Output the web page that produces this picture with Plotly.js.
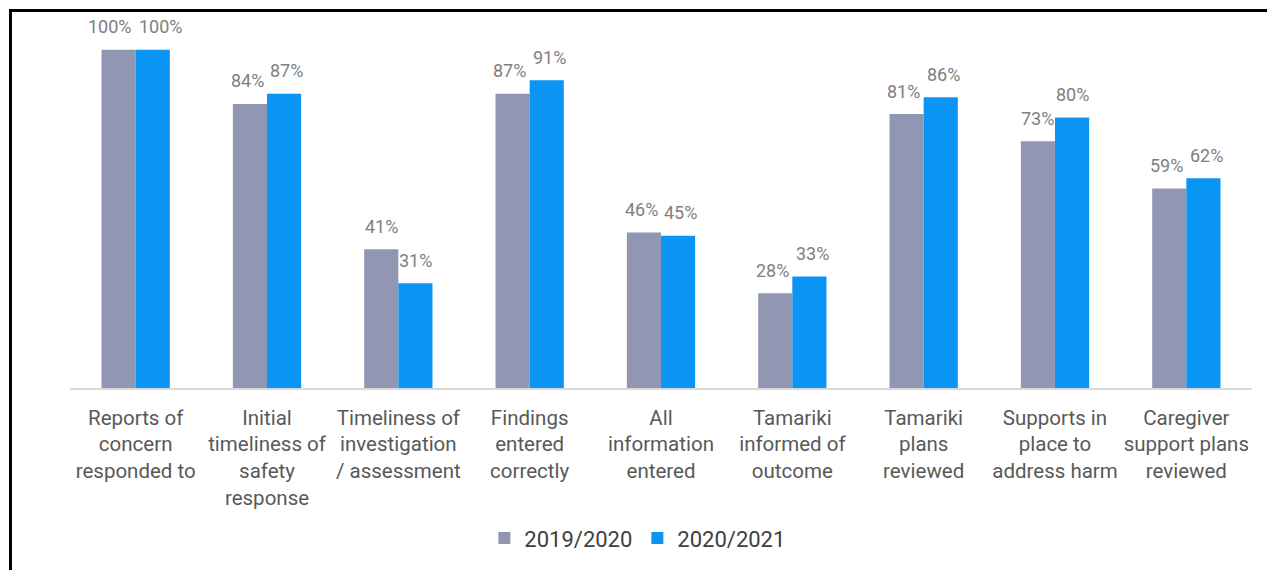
<!DOCTYPE html>
<html>
<head>
<meta charset="utf-8">
<script src="https://cdn.plot.ly/plotly-3.0.1.min.js"></script>
<style>
  html, body { margin: 0; padding: 0; background: #fff; overflow: hidden; }
  #wrap { position: relative; width: 1267px; height: 570px; }
  #chart { position: absolute; left: 0; top: 0; width: 1267px; height: 570px; }
  #frame { position: absolute; left: 9px; top: 9px; width: 1300px; height: 600px;
           border-left: 3px solid #000; border-top: 3px solid #000; pointer-events: none; }
</style>
</head>
<body>
<div id="wrap">
  <div id="chart"></div>
  <div id="frame"></div>
</div>
<script>
const categories = [
  "Reports of<br>concern<br>responded to",
  "Initial<br>timeliness of<br>safety<br>response",
  "Timeliness of<br>investigation<br>/ assessment",
  "Findings<br>entered<br>correctly",
  "All<br>information<br>entered",
  "Tamariki<br>informed of<br>outcome",
  "Tamariki<br>plans<br>reviewed",
  "Supports in<br>place to<br>address harm",
  "Caregiver<br>support plans<br>reviewed"
];
const seriesNames = ["2019/2020", "2020/2021"];
const values2019 = [100, 84, 41, 87, 46, 28, 81, 73, 59];
const values2020 = [100, 87, 31, 91, 45, 33, 86, 80, 62];

const W = 1267, H = 570;
const M = { l: 70, r: 15, t: 16, b: 181 };
const BARGAP = 0.48;
const YMAX = 110;
const plotW = W - M.l - M.r, plotH = H - M.t - M.b;
const barPx = plotW / categories.length * (1 - BARGAP) / 2;
const pxPerUnit = plotH / YMAX;

const labelFont = { family: "Roboto, 'Open Sans', sans-serif", size: 18, color: "#808080" };
const charPx = 10.6;

function mkTrace(name, vals, color) {
  return {
    type: "bar",
    name: name,
    x: categories,
    y: vals,
    marker: { color: color },
    hoverinfo: "skip"
  };
}

const data = [
  mkTrace(seriesNames[0], values2019, "#9197b3"),
  mkTrace(seriesNames[1], values2020, "#0a94f4")
];

// value labels, placed above each bar; nudged apart when the two labels of a group collide
const annotations = [];
categories.forEach((c, i) => {
  const a = values2019[i], b = values2020[i];
  const ta = a + "%", tb = b + "%";
  const wa = ta.length * charPx, wb = tb.length * charPx;
  let nudge = 0;
  if (Math.abs(a - b) * pxPerUnit < 18) {
    const overlap = (wa + wb) / 2 - barPx;
    nudge = Math.max(0, overlap / 2 + 4);
  }
  [[a, ta, -1], [b, tb, 1]].forEach(([v, t, side]) => {
    annotations.push({
      x: c, y: v, xref: "x", yref: "y",
      text: t, showarrow: false,
      xanchor: "center", yanchor: "middle",
      xshift: side * (barPx / 2 + nudge),
      yshift: 23,
      font: labelFont
    });
  });
});

const layout = {
  width: W,
  height: H,
  margin: M,
  paper_bgcolor: "#ffffff",
  plot_bgcolor: "#ffffff",
  barmode: "group",
  bargap: BARGAP,
  bargroupgap: 0,
  showlegend: true,
  annotations: annotations,
  legend: {
    orientation: "h",
    x: 0.48,
    xanchor: "center",
    y: -0.40,
    yanchor: "middle",
    font: { family: "'Liberation Sans Narrow', Roboto, sans-serif", size: 22, color: "#404040" },
    itemwidth: 30,
    traceorder: "normal"
  },
  xaxis: {
    type: "category",
    showline: true,
    linecolor: "#d9d9d9",
    linewidth: 2,
    ticks: "",
    ticklabelstandoff: 10,
    showgrid: false,
    zeroline: false,
    tickfont: { family: "Roboto, 'Open Sans', sans-serif", size: 20.5, color: "#595959" },
    tickangle: 0
  },
  yaxis: {
    range: [0, YMAX],
    visible: false,
    showgrid: false,
    zeroline: false
  }
};

Plotly.newPlot("chart", data, layout, { displayModeBar: false, staticPlot: true });
</script>
</body>
</html>
